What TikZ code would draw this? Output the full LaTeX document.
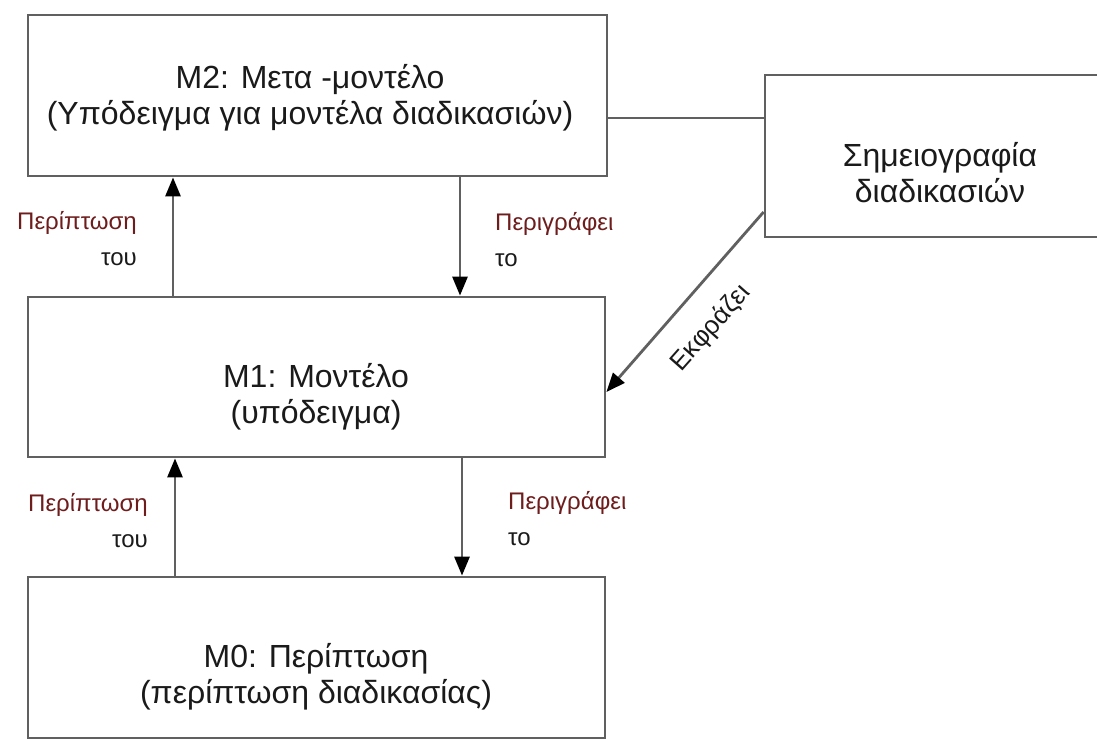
\documentclass[tikz,border=0pt]{standalone}
\usepackage{fontspec}
\setmainfont{Liberation Sans}
\usetikzlibrary{arrows.meta}
\definecolor{linegray}{HTML}{606060}
\definecolor{txt}{HTML}{1A1A1A}
\definecolor{lblred}{HTML}{6E1C1C}
\begin{document}
\begin{tikzpicture}[x=1pt,y=-1pt,
  box/.style={draw=linegray,line width=2.8pt,rectangle,inner sep=0pt},
  maintxt/.style={text=txt,align=center,inner sep=0pt,font=\fontsize{32}{36}\selectfont},
  lbl/.style={text=txt,inner sep=0pt,font=\fontsize{24}{36}\selectfont},
  conn/.style={draw=linegray,line width=2.8pt},
  arr/.style={conn,-{Triangle[length=19pt,width=15pt,color=black]}}]
\fill[white] (0,0) rectangle (1097,740);
\clip (0,0) rectangle (1097,740);
% boxes
\node[box,minimum width=579pt,minimum height=161pt] (m2) at (317.5,95.5) {};
\node[box,minimum width=577pt,minimum height=160pt] (m1) at (316.5,377) {};
\node[box,minimum width=577pt,minimum height=161pt] (m0) at (316.5,657.5) {};
\node[box,minimum width=350pt,minimum height=162pt] (nota) at (940,156) {};
% box texts
\node[maintxt] (m2t) at (310,98) {M2: Μετα -μοντέλο\\(Υπόδειγμα για μοντέλα διαδικασιών)};
\node[maintxt] (m1t) at (316,397) {M1: Μοντέλο\\(υπόδειγμα)};
\node[maintxt] (m0t) at (316,677) {M0: Περίπτωση\\(περίπτωση διαδικασίας)};
\node[maintxt] (notat) at (940,173) {Σημειογραφία\\διαδικασιών};
% connector positions
\coordinate (ua) at (173,0);
\coordinate (da) at (460,0);
\coordinate (ub) at (175,0);
\coordinate (db) at (462,0);
\coordinate (hl) at (0,118);
\coordinate (ds) at (0,212);
\coordinate (de) at (0,392);
% connectors
\draw[arr] (m1.north -| ua) -- (m2.south -| ua);
\draw[arr] (m2.south -| da) -- (m1.north -| da);
\draw[arr] (m0.north -| ub) -- (m1.south -| ub);
\draw[arr] (m1.south -| db) -- (m0.north -| db);
\draw[conn] (m2.east |- hl) -- (nota.west |- hl);
\draw[arr] (nota.west |- ds) -- (m1.east |- de);
% labels
\node[lbl,align=right,anchor=east] (l1) at (137,239) {\textcolor{lblred}{Περίπτωση}\\του};
\node[lbl,align=left,anchor=west] (r1) at (495,240) {\textcolor{lblred}{Περιγράφει}\\το};
\node[lbl,align=right,anchor=east] (l2) at (148,521) {\textcolor{lblred}{Περίπτωση}\\του};
\node[lbl,align=left,anchor=west] (r2) at (508,519) {\textcolor{lblred}{Περιγράφει}\\το};
\node[lbl,rotate=48.4,font=\fontsize{26}{30}\selectfont] (ex) at (711,328) {Εκφράζει};
\end{tikzpicture}
\end{document}
